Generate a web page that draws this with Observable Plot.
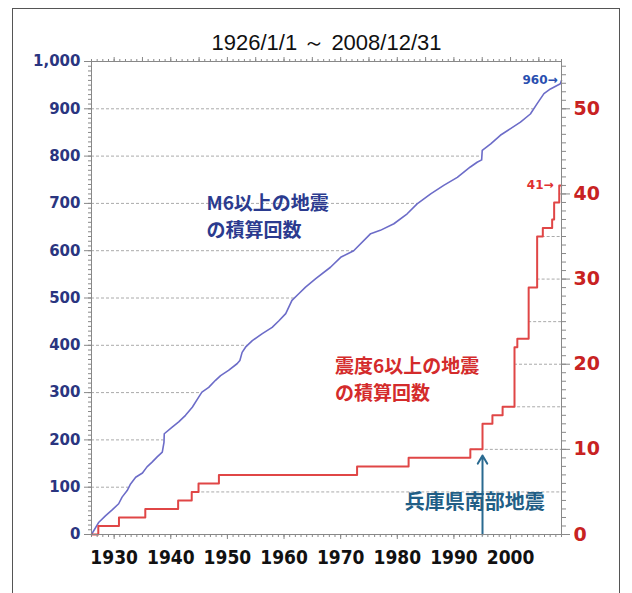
<!DOCTYPE html>
<html><head><meta charset="utf-8">
<script src="https://cdn.jsdelivr.net/npm/d3@7"></script>
<script src="https://cdn.jsdelivr.net/npm/@observablehq/plot@0.6"></script>
<style>
html,body{margin:0;padding:0;background:#fff;width:632px;height:593px;overflow:hidden}
#chart{position:absolute;left:0;top:0}
#border{position:absolute;left:12px;top:8px;width:606px;height:620px;border:1px solid #555;pointer-events:none}
</style></head><body>
<div id="chart"></div><div id="border"></div>
<script>
// ---- data ----
const title = "1926/1/1 ～ 2008/12/31";

// cumulative number of M6+ earthquakes (left axis)
const m6Years  = [1926.0,1927.3,1928.5,1929.65,1930.8,1931.4,1932.3,1932.9,1933.8,1935.0,1935.8,1936.7,1937.6,1938.5,1938.8,1938.85,1940.25,1941.4,1942.6,1943.8,1944.9,1945.5,1946.7,1947.9,1948.8,1950.2,1951.7,1952.2,1952.6,1953.2,1954.4,1956.1,1957.9,1959.1,1960.3,1961.4,1962.6,1963.8,1965.6,1968.2,1970.0,1972.3,1975.3,1977.0,1979.4,1981.75,1983.5,1985.9,1988.2,1990.6,1992.9,1994.1,1994.9,1995.0,1996.5,1998.2,2000.0,2001.75,2003.5,2004.7,2005.9,2007.05,2008.8,2009.0];
const m6Counts = [0,26,40,52,65,79,93,107,121,130,143,153,164,174,195,213,227,238,252,269,290,301,311,326,336,347,361,368,385,396,410,424,438,452,467,495,509,523,541,565,586,600,636,643,657,678,699,720,738,755,777,787,792,812,826,844,858,872,889,911,932,942,953,960];

// cumulative number of seismic intensity 6+ earthquakes (right axis), step series
const s6Years  = [1926.0,1927.2,1930.85,1935.5,1941.3,1943.7,1944.9,1948.5,1972.9,1982.0,1992.9,1995.05,1996.8,1998.6,2000.7,2001.2,2003.2,2004.7,2005.7,2007.35,2007.7,2008.6,2009.0];
const s6Counts = [0,1,2,3,4,5,6,7,8,9,10,13,14,15,22,23,29,35,36,37,39,41,41];

const leftTicks  = [0,100,200,300,400,500,600,700,800,900,1000];
const rightTicks = [0,10,20,30,40,50];
const xTicks     = [1930,1940,1950,1960,1970,1980,1990,2000];
const RATIO = 18;           // left-axis units per right-axis unit
const xDomain = [1926, 2009];

const noteTexts  = ["M6以上の地震\nの積算回数","震度6以上の地震\nの積算回数"];
const noteYears  = [1946.3,1969.0];
const noteValues = [676,332];
const noteColors = ["#2b3b8f","#d42b2b"];

const hanshinText  = "兵庫県南部地震";
const hanshinYear  = 1995.05;
const hanshinTextYear = 1993.7;
const hanshinTextValue = 68;
const hanshinArrowTop = 167;

const endLabels = ["960→","41→"];
const endYears  = [2008.3, 2007.6];
const endValues = [960, 41*RATIO];
const endColors = ["#2a4fb0","#e03030"];

// ---- derived tables ----
const m6 = m6Years.map((x,i)=>({x, y:m6Counts[i]}));
const s6 = s6Years.map((x,i)=>({x, y:s6Counts[i]*RATIO}));

function firstCross(xs, vs, v, step){
  for(let i=0;i<vs.length;i++){
    if(vs[i]>=v){
      if(step||i===0) return xs[i];
      const t=(v-vs[i-1])/(vs[i]-vs[i-1]);
      return xs[i-1]+t*(xs[i]-xs[i-1]);
    }
  }
  return null;
}
const leftGrid = leftTicks.filter(v=>v>0&&v<1000).map(v=>({y:v, x1:xDomain[0], x2:firstCross(m6Years,m6Counts,v,false)}));
const maxS6 = d3.max(s6Counts);
const rightGrid = d3.range(5,55,5).filter(r=>r<=maxS6).map(r=>({y:r*RATIO, x1:firstCross(s6Years,s6Counts,r,true), x2:xDomain[1]}));
const notes = noteTexts.map((t,i)=>({t, x:noteYears[i], y:noteValues[i], c:noteColors[i]}));
const ends = endLabels.map((t,i)=>({t, x:endYears[i], y:endValues[i], c:endColors[i]}));

const CJK = "'Noto Sans CJK JP', 'Noto Sans', sans-serif";
const blank = () => "";

const plot = Plot.plot({
  width: 632, height: 593,
  marginLeft: 91, marginRight: 71, marginTop: 61, marginBottom: 59,
  style: {background: "transparent", fontFamily: "'DejaVu Sans', sans-serif"},
  x: {domain: xDomain},
  y: {domain: [0,1000]},
  marks: [
    Plot.ruleY(leftGrid, {y:"y", x1:"x1", x2:"x2", stroke:"#aaa", strokeDasharray:"3,2"}),
    Plot.ruleY(rightGrid, {y:"y", x1:"x1", x2:"x2", stroke:"#aaa", strokeDasharray:"3,2"}),
    Plot.arrow([{x:hanshinYear, y1:0, y2:hanshinArrowTop}], {x1:"x", x2:"x", y1:"y1", y2:"y2", stroke:"#2a6a90", strokeWidth:2, headLength:7, bend:0}),
    Plot.text(notes, {x:"x", y:"y", text:"t", fill:"c", textAnchor:"start", lineAnchor:"middle", lineHeight:1.45, fontSize:19, fontWeight:"bold", fontFamily:CJK, ariaLabel:"masknote"}),
    Plot.text([{t:hanshinText, x:hanshinTextYear, y:hanshinTextValue}], {x:"x", y:"y", text:"t", fill:"#215e86", textAnchor:"middle", lineAnchor:"middle", fontSize:20, fontWeight:"bold", fontFamily:CJK, ariaLabel:"masknote"}),
    Plot.line(m6, {x:"x", y:"y", stroke:"#6c6cc8", strokeWidth:1.6}),
    Plot.line(s6, {x:"x", y:"y", curve:"step-after", stroke:"#e04646", strokeWidth:2}),
    Plot.text(ends, {x:"x", y:"y", text:"t", fill:"c", textAnchor:"end", fontSize:12, fontWeight:"bold", fontFamily:"'DejaVu Sans', sans-serif"}),
    Plot.frame({stroke:"#888"}),
    // left axis
    Plot.axisY({anchor:"left", ticks:d3.range(0,1001,10), tickSize:3, tickFormat:blank, stroke:"#888", label:null}),
    Plot.axisY({anchor:"left", ticks:leftTicks, tickSize:7, tickPadding:4, tickFormat:d3.format(","), color:"#2a3580", stroke:"#888", fontSize:15, fontWeight:"bold", label:null}),
    // right axis
    Plot.axisY({anchor:"right", ticks:d3.range(0,56,1).map(r=>r*RATIO), tickSize:4, tickFormat:blank, stroke:"#888", label:null}),
    Plot.axisY({anchor:"right", ticks:rightTicks.map(r=>r*RATIO), tickSize:8, tickPadding:4, tickFormat:d=>String(Math.round(d/RATIO)), color:"#c82222", stroke:"#888", fontSize:19, fontWeight:"bold", label:null}),
    // bottom axis
    Plot.axisX({anchor:"bottom", ticks:d3.range(1926,2010,1), tickSize:3, tickFormat:blank, stroke:"#888", label:null}),
    Plot.axisX({anchor:"bottom", ticks:xTicks, tickSize:5, tickPadding:11, tickFormat:d=>String(d), color:"#111", stroke:"#888", fontSize:19, fontWeight:"bold", fontFamily:"'DejaVu Sans Condensed', 'DejaVu Sans', sans-serif", label:null}),
    // top axis
    Plot.axisX({anchor:"top", ticks:d3.range(1926,2010,1), tickSize:3, tickFormat:blank, stroke:"#888", label:null}),
    Plot.axisX({anchor:"top", ticks:d3.range(1930,2010,5), tickSize:5, tickFormat:blank, stroke:"#888", label:null}),
    // title
    Plot.text([title], {frameAnchor:"top", text:d=>d, dy:-19, lineAnchor:"middle", fontSize:22, fill:"#111", fontFamily:"'Liberation Sans Narrow', 'Liberation Sans', sans-serif"})
  ]
});
document.getElementById("chart").appendChild(plot);

// drop empty tick-label texts of the minor-tick axes
plot.querySelectorAll("text").forEach(t=>{ if(t.textContent==="") t.remove(); });

// white boxes behind the notes so they interrupt grid and marker lines
plot.querySelectorAll('g[aria-label="masknote"] text').forEach(t=>{
  const b=t.getBBox();
  const r=document.createElementNS("http://www.w3.org/2000/svg","rect");
  r.setAttribute("x",b.x-3); r.setAttribute("y",b.y-1);
  r.setAttribute("width",b.width+6); r.setAttribute("height",b.height+2);
  r.setAttribute("fill","#fff");
  if(t.getAttribute("transform")) r.setAttribute("transform",t.getAttribute("transform"));
  t.parentNode.insertBefore(r,t);
});
</script>
</body></html>
